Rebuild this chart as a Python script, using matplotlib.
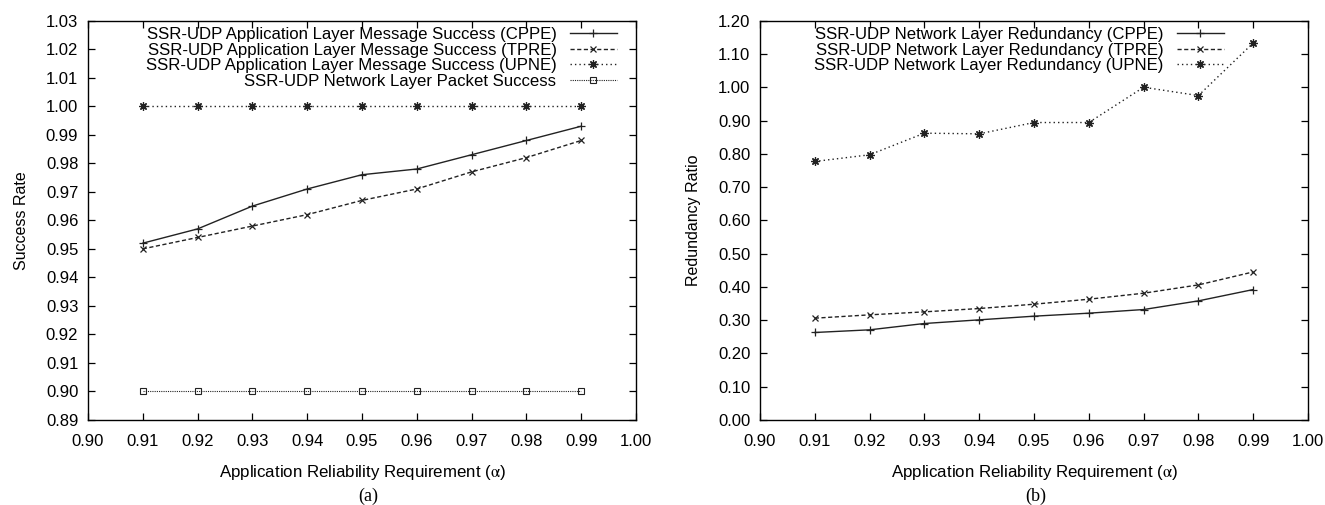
import matplotlib
matplotlib.use("Agg")
import matplotlib.pyplot as plt
from matplotlib.ticker import MultipleLocator, FormatStrFormatter

plt.rcParams['font.family'] = ['Liberation Sans', 'DejaVu Sans']
plt.rcParams['mathtext.fontset'] = 'stix'

# ---------------- data ----------------
alpha = [0.91, 0.92, 0.93, 0.94, 0.95, 0.96, 0.97, 0.98, 0.99]

# (a) success rate
succ_cppe = [0.952, 0.957, 0.965, 0.971, 0.976, 0.978, 0.983, 0.988, 0.993]
succ_tpre = [0.950, 0.954, 0.958, 0.962, 0.967, 0.971, 0.977, 0.982, 0.988]
succ_upne = [1.000, 1.000, 1.000, 1.000, 1.000, 1.000, 1.000, 1.000, 1.000]
succ_net = [0.900, 0.900, 0.900, 0.900, 0.900, 0.900, 0.900, 0.900, 0.900]

# (b) redundancy ratio
red_cppe = [0.263, 0.271, 0.290, 0.301, 0.312, 0.321, 0.332, 0.358, 0.392]
red_tpre = [0.306, 0.316, 0.325, 0.335, 0.348, 0.363, 0.381, 0.406, 0.445]
red_upne = [0.777, 0.797, 0.862, 0.860, 0.894, 0.894, 1.000, 0.975, 1.133]

labels_a = [
    "SSR-UDP Application Layer Message Success (CPPE)",
    "SSR-UDP Application Layer Message Success (TPRE)",
    "SSR-UDP Application Layer Message Success (UPNE)",
    "SSR-UDP Network Layer Packet Success",
]
labels_b = [
    "SSR-UDP Network Layer Redundancy (CPPE)",
    "SSR-UDP Network Layer Redundancy (TPRE)",
    "SSR-UDP Network Layer Redundancy (UPNE)",
]
xlabel = r"Application Reliability Requirement ($\mathrm{\alpha}$)"

# ---------------- layout ----------------
W, H = 1325, 505
fig = plt.figure(figsize=(W / 100, H / 100), dpi=100)

def px_axes(l, r, t, b):
    return fig.add_axes([l / W, 1 - b / H, (r - l) / W, (b - t) / H])

axA = px_axes(88, 636, 20.7, 420)
axB = px_axes(760, 1308, 20.7, 420)

lc = '#222222'
asterisk = (8, 2, 0)
TICK_FS = 12
YLAB_FS = 11.5
XLAB_FS = 12.2
LEG_FS = 12.1

def style_axes(ax):
    ax.tick_params(direction='in', length=5, width=0.9, top=True, right=True,
                   labelsize=TICK_FS, colors='black', pad=7)
    ax.tick_params(axis='x', pad=10)
    for s in ax.spines.values():
        s.set_linewidth(1.0)
        s.set_color('black')
    ax.set_xlim(0.90, 1.00)
    ax.xaxis.set_major_locator(MultipleLocator(0.01))
    ax.xaxis.set_major_formatter(FormatStrFormatter('%.2f'))
    ax.set_xlabel(xlabel, fontsize=XLAB_FS, labelpad=10)

# ---- panel (a)
axA.plot(alpha, succ_cppe, color=lc, lw=1.0, ls='-', marker='+', ms=6, mew=0.9, label=labels_a[0])
axA.plot(alpha, succ_tpre, color=lc, lw=1.0, ls=(0, (3, 1.8)), marker='x', ms=5, mew=0.9, label=labels_a[1])
axA.plot(alpha, succ_upne, color=lc, lw=1.0, ls=(0, (1, 2.2)), marker=asterisk, ms=6, mew=0.9, label=labels_a[2])
axA.plot(alpha, succ_net, color=lc, lw=0.8, ls=(0, (1, 1)), marker='s', ms=5, mew=0.8,
         mfc='none', label=labels_a[3])
axA.set_ylim(0.89, 1.03)
axA.yaxis.set_major_locator(MultipleLocator(0.01))
axA.yaxis.set_major_formatter(FormatStrFormatter('%.2f'))
axA.set_ylabel("Success Rate", fontsize=YLAB_FS, labelpad=12)
style_axes(axA)

# ---- panel (b)
axB.plot(alpha, red_cppe, color=lc, lw=1.0, ls='-', marker='+', ms=6, mew=0.9, label=labels_b[0])
axB.plot(alpha, red_tpre, color=lc, lw=1.0, ls=(0, (3, 1.8)), marker='x', ms=5, mew=0.9, label=labels_b[1])
axB.plot(alpha, red_upne, color=lc, lw=1.0, ls=(0, (1, 2.2)), marker=asterisk, ms=6, mew=0.9, label=labels_b[2])
axB.set_ylim(0.0, 1.20)
axB.yaxis.set_major_locator(MultipleLocator(0.10))
axB.yaxis.set_major_formatter(FormatStrFormatter('%.2f'))
axB.set_ylabel("Redundancy Ratio", fontsize=YLAB_FS, labelpad=12)
style_axes(axB)

def gp_legend(ax, right_px, top_px):
    x = right_px / W
    y = 1 - top_px / H
    leg = ax.legend(loc='upper right', bbox_to_anchor=(x, y), bbox_transform=fig.transFigure,
                    frameon=False, markerfirst=False, fontsize=LEG_FS, handlelength=2.8,
                    handletextpad=0.8, labelspacing=0.03, borderpad=0, borderaxespad=0)
    return leg

gp_legend(axA, 617, 27)
gp_legend(axB, 1224, 27)

fig.text(368 / W, 1 - 496 / H, "(a)", ha='center', va='center', fontsize=13,
         family='Liberation Serif')
fig.text(1036 / W, 1 - 496 / H, "(b)", ha='center', va='center', fontsize=13,
         family='Liberation Serif')

fig.savefig("out.png", dpi=100)
